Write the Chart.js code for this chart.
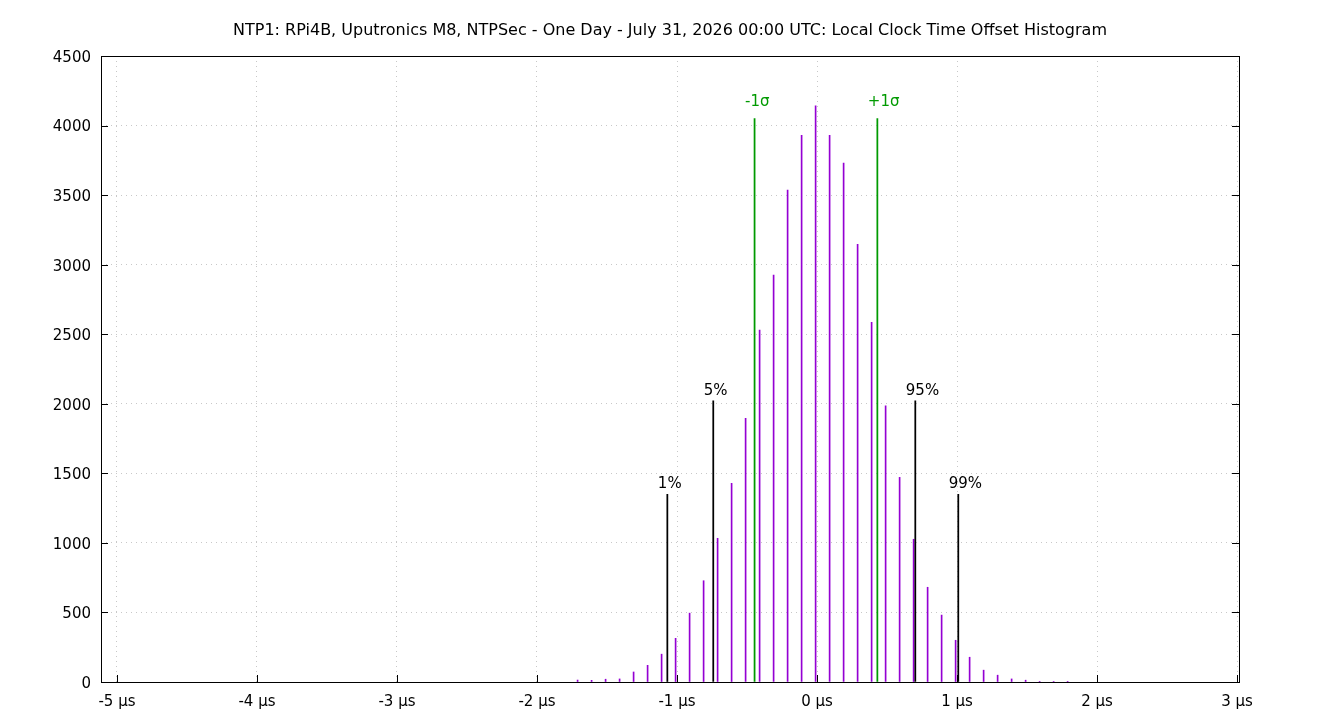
<!DOCTYPE html>
<html>
<head>
<meta charset="utf-8">
<script src="https://cdn.jsdelivr.net/npm/chart.js@4.4.0/dist/chart.umd.min.js"></script>
<style>body{margin:0;background:#fff}</style>
</head>
<body>
<canvas id="chart" width="1340" height="720"></canvas>
<script>
// histogram bins (µs) and counts
const offsets = [-1.71, -1.61, -1.51, -1.41, -1.31, -1.21, -1.11, -1.01, -0.91, -0.81, -0.71, -0.61,
  -0.51, -0.41, -0.31, -0.21, -0.11, -0.01, 0.09, 0.19, 0.29, 0.39, 0.49, 0.59, 0.69, 0.79, 0.89,
  0.99, 1.09, 1.19, 1.29, 1.39, 1.49, 1.59, 1.69, 1.79];
const counts = [14, 12, 20, 22, 72, 120, 200, 314, 495, 728, 1033, 1428,
  1896, 2530, 2926, 3537, 3930, 4141, 3930, 3731, 3146, 2586, 1986, 1471, 1026, 681, 481,
  300, 178, 85, 49, 22, 13, 5, 3, 2];

// percentile / sigma markers
const markerNames = ['1%', '5%', '-1σ', '+1σ', '95%', '99%'];
const markerOffsets = [-1.069, -0.741, -0.446, 0.431, 0.702, 1.009];
const markerHeights = [1349, 2022, 4050, 4050, 2022, 1349];
const markerColors = ['#000000', '#000000', '#009a00', '#009a00', '#000000', '#000000'];

const xTicks = [-5, -4, -3, -2, -1, 0, 1, 2, 3];
const yTicks = [0, 500, 1000, 1500, 2000, 2500, 3000, 3500, 4000, 4500];

const title = 'NTP1: RPi4B, Uputronics M8, NTPSec - One Day - July 31, 2026 00:00 UTC: Local Clock Time Offset Histogram';

Chart.defaults.font.family = '"DejaVu Sans", sans-serif';
Chart.defaults.font.size = 15;
Chart.defaults.color = '#000';

const framePlugin = {
  id: 'frame',
  afterDatasetsDraw(chart) {
    const { ctx, chartArea: a, scales: { x, y } } = chart;
    ctx.save();
    ctx.strokeStyle = '#000';
    ctx.lineWidth = 1;
    ctx.strokeRect(Math.round(a.left) + 0.5, Math.round(a.top) + 0.5,
      Math.round(a.right - a.left), Math.round(a.bottom - a.top));
    ctx.beginPath();
    yTicks.forEach(v => {
      const py = Math.round(y.getPixelForValue(v)) + 0.5;
      ctx.moveTo(a.left, py); ctx.lineTo(a.left + 7, py);
      ctx.moveTo(a.right - 7, py); ctx.lineTo(a.right, py);
    });
    xTicks.forEach(v => {
      const px = Math.round(x.getPixelForValue(v)) + 0.5;
      ctx.moveTo(px, a.bottom); ctx.lineTo(px, a.bottom - 7);
    });
    ctx.stroke();

    // title, centred on the whole canvas
    ctx.fillStyle = '#000';
    ctx.font = '16px "DejaVu Sans"';
    ctx.textAlign = 'center';
    ctx.textBaseline = 'middle';
    ctx.fillText(title, chart.width / 2, 30.5);

    // marker labels, sigma labels sit a bit higher
    ctx.font = '15px "DejaVu Sans"';
    ctx.textAlign = 'left';
    ctx.textBaseline = 'alphabetic';
    markerNames.forEach((name, i) => {
      const px = x.getPixelForValue(markerOffsets[i]);
      const py = y.getPixelForValue(markerHeights[i]);
      const gap = name.includes('σ') ? 12.5 : 6;
      ctx.fillStyle = markerColors[i];
      ctx.fillText(name, px - 9.5, py - gap);
    });
    ctx.restore();
  }
};

new Chart(document.getElementById('chart'), {
  type: 'bar',
  data: {
    datasets: [
      {
        label: 'markers',
        data: markerOffsets.map((v, i) => ({ x: v, y: markerHeights[i] })),
        backgroundColor: markerColors,
        barThickness: 1.1,
        order: 0
      },
      {
        label: 'offsets',
        data: offsets.map((v, i) => ({ x: v, y: counts[i] })),
        backgroundColor: '#9400d3',
        barThickness: 1,
        order: 1
      }
    ]
  },
  options: {
    responsive: false,
    animation: false,
    grouped: false,
    layout: { padding: { left: 0, right: 101, top: 56, bottom: 0 } },
    plugins: {
      legend: { display: false },
      tooltip: { enabled: false },
      title: { display: false }
    },
    scales: {
      x: {
        type: 'linear',
        min: -5.114,
        max: 3.014,
        offset: false,
        afterBuildTicks: s => { s.ticks = xTicks.map(v => ({ value: v })); },
        afterFit: s => { s.height = 38; },
        ticks: {
          callback: v => v + ' µs',
          padding: 11,
          maxRotation: 0,
          autoSkip: false
        },
        grid: { offset: false, color: '#c8c8c8', drawTicks: false },
        border: { display: false, dash: [1, 4] }
      },
      y: {
        min: 0,
        max: 4500,
        afterBuildTicks: s => { s.ticks = yTicks.map(v => ({ value: v })); },
        afterFit: s => { s.width = 101; },
        ticks: { padding: 10, labelOffset: 2, callback: v => String(v) },
        grid: { color: '#c8c8c8', drawTicks: false },
        border: { display: false, dash: [1, 4] }
      }
    }
  },
  plugins: [framePlugin]
});
</script>
</body>
</html>
